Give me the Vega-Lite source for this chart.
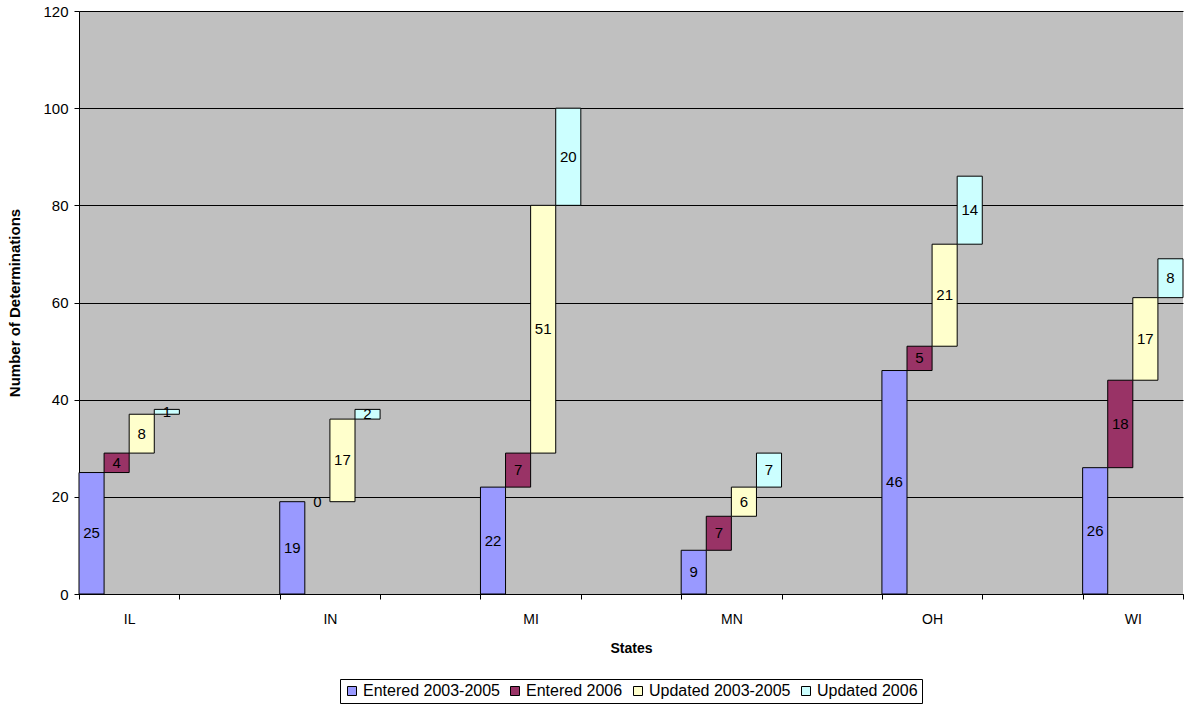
{
  "$schema": "https://vega.github.io/schema/vega-lite/v6.json",
  "autosize": "none",
  "width": 1104,
  "height": 583,
  "padding": {"left": 79, "top": 11, "right": 1, "bottom": 112},
  "background": "white",
  "config": {
    "font": "Liberation Sans",
    "view": {"fill": "#C0C0C0", "stroke": null},
    "axis": {"labelFont": "Liberation Sans", "titleFont": "Liberation Sans", "labelColor": "black", "titleColor": "black", "domainColor": "black", "tickColor": "black"}
  },
  "data": {
    "values": [
      {"state": "IL", "series": "Entered 2003-2005", "value": 25, "lo": 0, "hi": 25},
      {"state": "IL", "series": "Entered 2006", "value": 4, "lo": 25, "hi": 29},
      {"state": "IL", "series": "Updated 2003-2005", "value": 8, "lo": 29, "hi": 37},
      {"state": "IL", "series": "Updated 2006", "value": 1, "lo": 37, "hi": 38},
      {"state": "IN", "series": "Entered 2003-2005", "value": 19, "lo": 0, "hi": 19},
      {"state": "IN", "series": "Entered 2006", "value": 0, "lo": 19, "hi": 19},
      {"state": "IN", "series": "Updated 2003-2005", "value": 17, "lo": 19, "hi": 36},
      {"state": "IN", "series": "Updated 2006", "value": 2, "lo": 36, "hi": 38},
      {"state": "MI", "series": "Entered 2003-2005", "value": 22, "lo": 0, "hi": 22},
      {"state": "MI", "series": "Entered 2006", "value": 7, "lo": 22, "hi": 29},
      {"state": "MI", "series": "Updated 2003-2005", "value": 51, "lo": 29, "hi": 80},
      {"state": "MI", "series": "Updated 2006", "value": 20, "lo": 80, "hi": 100},
      {"state": "MN", "series": "Entered 2003-2005", "value": 9, "lo": 0, "hi": 9},
      {"state": "MN", "series": "Entered 2006", "value": 7, "lo": 9, "hi": 16},
      {"state": "MN", "series": "Updated 2003-2005", "value": 6, "lo": 16, "hi": 22},
      {"state": "MN", "series": "Updated 2006", "value": 7, "lo": 22, "hi": 29},
      {"state": "OH", "series": "Entered 2003-2005", "value": 46, "lo": 0, "hi": 46},
      {"state": "OH", "series": "Entered 2006", "value": 5, "lo": 46, "hi": 51},
      {"state": "OH", "series": "Updated 2003-2005", "value": 21, "lo": 51, "hi": 72},
      {"state": "OH", "series": "Updated 2006", "value": 14, "lo": 72, "hi": 86},
      {"state": "WI", "series": "Entered 2003-2005", "value": 26, "lo": 0, "hi": 26},
      {"state": "WI", "series": "Entered 2006", "value": 18, "lo": 26, "hi": 44},
      {"state": "WI", "series": "Updated 2003-2005", "value": 17, "lo": 44, "hi": 61},
      {"state": "WI", "series": "Updated 2006", "value": 8, "lo": 61, "hi": 69}
    ]
  },
  "transform": [{"calculate": "(datum.lo + datum.hi) / 2", "as": "mid"}],
  "encoding": {
    "x": {
      "field": "state",
      "type": "nominal",
      "scale": {"domain": ["IL", "_1", "IN", "_2", "MI", "_3", "MN", "_4", "OH", "_5", "WI"], "paddingInner": 0, "paddingOuter": 0},
      "axis": {
        "title": "States",
        "titleFontSize": 14,
        "titleFontWeight": "bold",
        "titlePadding": 15,
        "labelAngle": 0,
        "labelFontSize": 14,
        "labelPadding": 13,
        "tickSize": 5,
        "tickBand": "extent",
        "labelExpr": "indexof(datum.label, '_') == 0 ? '' : datum.label",
        "grid": false
      }
    },
    "xOffset": {
      "field": "series",
      "type": "nominal",
      "scale": {"domain": ["Entered 2003-2005", "Entered 2006", "Updated 2003-2005", "Updated 2006"], "paddingInner": 0, "paddingOuter": 0}
    }
  },
  "layer": [
    {
      "transform": [{"filter": "datum.value > 0"}],
      "mark": {"type": "bar", "stroke": "black", "strokeWidth": 1},
      "encoding": {
        "y": {
          "field": "lo",
          "type": "quantitative",
          "scale": {"domain": [0, 120], "nice": false},
          "axis": {
            "title": "Number of Determinations",
            "titleFontSize": 15,
            "titleFontWeight": "bold",
            "titleX": -57,
            "values": [0, 20, 40, 60, 80, 100, 120],
            "labelFontSize": 15,
            "labelPadding": 6,
            "tickSize": 5,
            "grid": true,
            "gridColor": "black",
            "gridWidth": 1,
            "gridOpacity": 1
          }
        },
        "y2": {"field": "hi"},
        "color": {
          "field": "series",
          "type": "nominal",
          "scale": {"domain": ["Entered 2003-2005", "Entered 2006", "Updated 2003-2005", "Updated 2006"], "range": ["#9999FF", "#993366", "#FFFFCC", "#CCFFFF"]},
          "legend": {
            "title": null,
            "orient": "none",
            "direction": "horizontal",
            "legendX": 261,
            "legendY": 668,
            "symbolType": "square",
            "symbolSize": 81,
            "symbolStrokeColor": "black",
            "symbolStrokeWidth": 1,
            "symbolOpacity": 1,
            "labelFontSize": 16,
            "labelColor": "black",
            "labelOffset": 3,
            "columnPadding": 7,
            "padding": 4,
            "strokeColor": "black"
          }
        }
      }
    },
    {
      "mark": {"type": "text", "fontSize": 15, "color": "black", "align": "center", "baseline": "middle"},
      "encoding": {
        "y": {"field": "mid", "type": "quantitative"},
        "text": {"field": "value", "type": "quantitative"}
      }
    }
  ]
}
